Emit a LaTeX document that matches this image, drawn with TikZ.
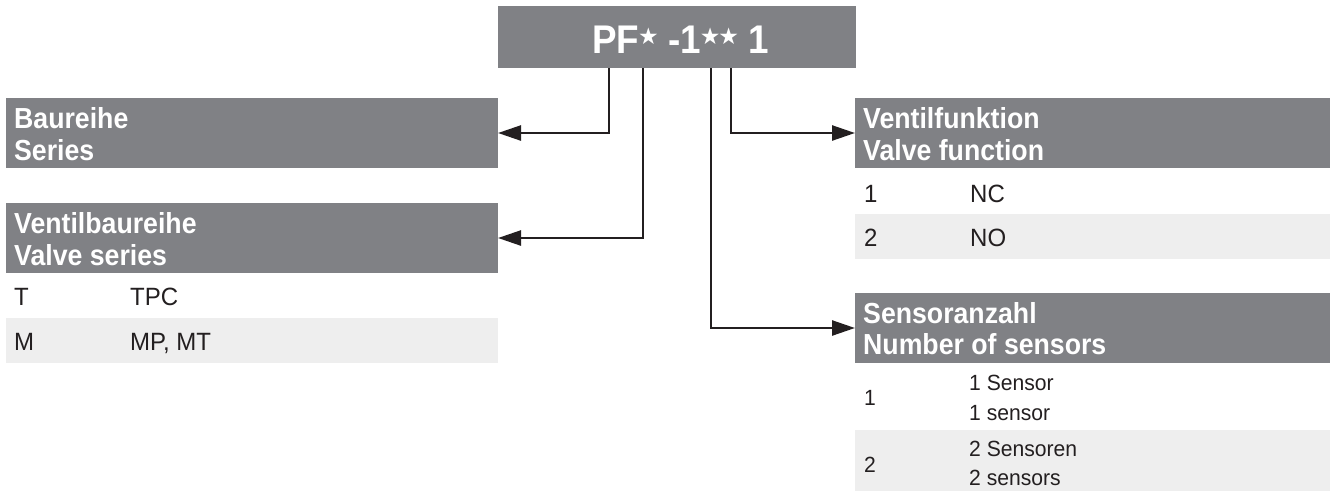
\documentclass[tikz,border=0pt]{standalone}
\usepackage{fontspec}
\setmainfont{Liberation Sans}[FakeStretch=0.96]
\newfontfamily\hdrfont{Liberation Sans}[FakeStretch=0.92]
\newfontfamily\symfnt{DejaVu Sans}
\usetikzlibrary{arrows.meta}
\definecolor{hdrgray}{HTML}{808185}
\definecolor{rowgray}{HTML}{EEEEEE}
\definecolor{ink}{HTML}{231F20}
\newcommand\mystar{\raisebox{8.5pt}{\symfnt\fontsize{23}{23}\selectfont\kern-1pt★\kern-1pt}}
\tikzset{
  hdr/.style={fill=hdrgray, draw=none, anchor=north west, inner sep=0pt, outer sep=0pt},
  rowbg/.style={fill=rowgray, draw=none, anchor=north west, inner sep=0pt, outer sep=0pt},
  htext/.style={anchor=base west, inner sep=0pt, text=white, font=\hdrfont\bfseries\fontsize{29}{29}\selectfont},
  btext/.style={anchor=base west, inner sep=0pt, text=ink, font=\fontsize{25}{25}\selectfont},
  stext/.style={anchor=base west, inner sep=0pt, text=ink, font=\fontsize{22}{22}\selectfont},
  conn/.style={draw=ink, line width=2.5pt, line join=miter, -{Triangle[length=23pt,width=15pt]}},
}
\begin{document}
\begin{tikzpicture}[x=1pt,y=-1pt]
\useasboundingbox (0,0) rectangle (1330,491);
% top code box
\node[hdr, minimum width=358pt, minimum height=62pt] (code) at (498,6) {};
\node[anchor=base west, inner sep=0pt, text=white, font=\hdrfont\bfseries\fontsize{40}{40}\selectfont] (codetext) at (592,53) {PF\mystar{} -1\mystar\mystar{} 1};
% left: series
\node[hdr, minimum width=492pt, minimum height=70pt] (series) at (6,98) {};
\node[htext] (seriesA) at (14,128) {Baureihe};
\node[htext] (seriesB) at (14,160) {Series};
% left: valve series
\node[hdr, minimum width=492pt, minimum height=70pt] (vseries) at (6,203) {};
\node[htext] (vseriesA) at (14,233) {Ventilbaureihe};
\node[htext] (vseriesB) at (14,265) {Valve series};
\node[rowbg, minimum width=492pt, minimum height=45pt] (vsrow2) at (6,318) {};
\node[btext] (vsT) at (14,305) {T};
\node[btext] (vsTPC) at (130,305) {TPC};
\node[btext] (vsM) at (14,350) {M};
\node[btext] (vsMP) at (130,350) {MP, MT};
% right: valve function
\node[hdr, minimum width=475pt, minimum height=70pt] (vfunc) at (855,98) {};
\node[htext] (vfuncA) at (863,128) {Ventilfunktion};
\node[htext] (vfuncB) at (863,160) {Valve function};
\node[rowbg, minimum width=475pt, minimum height=45pt] (vfrow2) at (855,214) {};
\node[btext] (vf1) at (864,202) {1};
\node[btext] (vfNC) at (970,202) {NC};
\node[btext] (vf2) at (864,246) {2};
\node[btext] (vfNO) at (970,246) {NO};
% right: sensors
\node[hdr, minimum width=475pt, minimum height=70pt] (sens) at (855,293) {};
\node[htext] (sensA) at (863,323) {Sensoranzahl};
\node[htext] (sensB) at (863,354) {Number of sensors};
\node[rowbg, minimum width=475pt, minimum height=61pt] (snrow2) at (855,430) {};
\node[stext] (sn1) at (864,405) {1};
\node[stext] (sn1a) at (969,390) {1 Sensor};
\node[stext] (sn1b) at (969,420) {1 sensor};
\node[stext] (sn2) at (864,472) {2};
\node[stext] (sn2a) at (969,456) {2 Sensoren};
\node[stext] (sn2b) at (969,485) {2 sensors};
% connectors
\coordinate (c1) at (609,68);
\coordinate (c2) at (643,68);
\coordinate (c3) at (711,68);
\coordinate (c4) at (731,68);
\draw[conn] (c1) |- (series.east);
\draw[conn] (c2) |- (vseries.east);
\draw[conn] (c3) |- (sens.west);
\draw[conn] (c4) |- (vfunc.west);
\end{tikzpicture}
\end{document}
